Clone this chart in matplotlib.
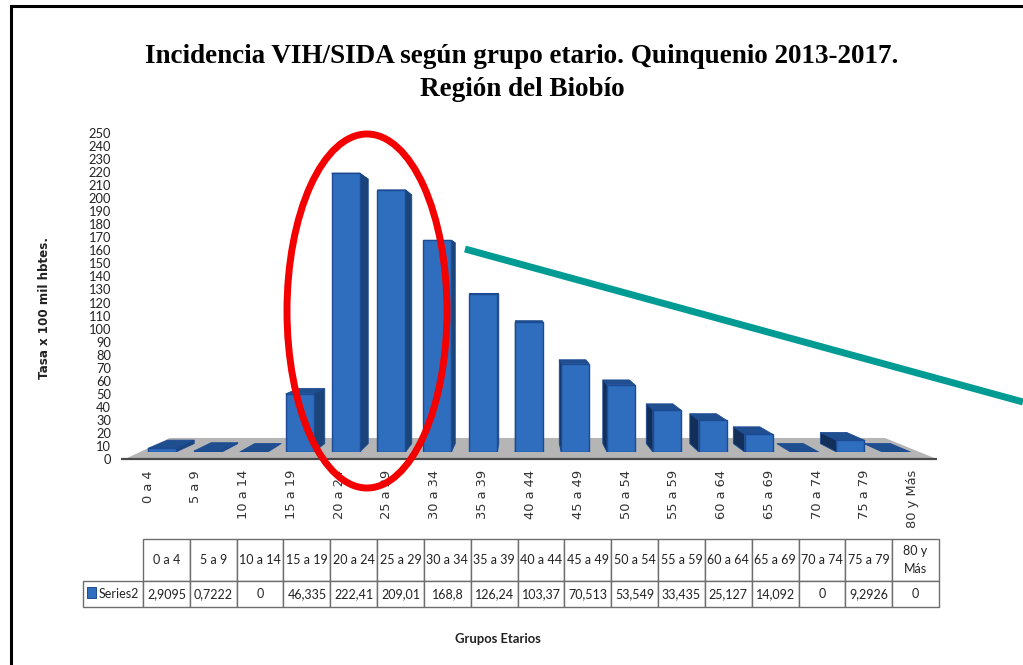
import matplotlib
matplotlib.use("Agg")
import matplotlib.pyplot as plt
from matplotlib.patches import Polygon, Ellipse, Rectangle

W, H, DPI = 1023, 665, 100

groups = ["0 a 4", "5 a 9", "10 a 14", "15 a 19", "20 a 24", "25 a 29", "30 a 34", "35 a 39",
          "40 a 44", "45 a 49", "50 a 54", "55 a 59", "60 a 64", "65 a 69", "70 a 74", "75 a 79", "80 y Más"]
values = [2.9095, 0.7222, 0, 46.335, 222.41, 209.01, 168.8, 126.24,
          103.37, 70.513, 53.549, 33.435, 25.127, 14.092, 0, 9.2926, 0]
value_labels = ["2,9095", "0,7222", "0", "46,335", "222,41", "209,01", "168,8", "126,24",
                "103,37", "70,513", "53,549", "33,435", "25,127", "14,092", "0", "9,2926", "0"]
series_name = "Series2"
y_ticks = list(range(0, 251, 10))
title = "Incidencia VIH/SIDA según grupo etario. Quinquenio 2013-2017.\nRegión del Biobío"
y_title = "Tasa x 100 mil hbtes."
x_title = "Grupos Etarios"

FRONT, TOP, SIDE_R, SIDE_L, EDGE = "#2F6EBE", "#1F4F8F", "#1B4478", "#112F58", "#1D4A94"
NARROW = "Lato"


def px_axes(left, right, top, bottom, **kw):
    return fig.add_axes([left / W, 1 - bottom / H, (right - left) / W, (bottom - top) / H], **kw)


fig = plt.figure(figsize=(W / DPI, H / DPI), dpi=DPI, facecolor="white")

# ---- bars: x index 0 -> 162 px, step 45.9 px; value 0 -> 452 px, 1.254 px per unit
ax = px_axes(162 - 45.9, 162 + 16 * 45.9 + 45.9, 452 - 260 * 1.254, 452)
ax.set_xlim(-1, 17)
ax.set_ylim(0, 260)
ax.axis("off")

vp_x, vp_y, depth = 7.93, 129.0, 0.052   # perspective of the fake 3D
half = 14 / 45.9


def back(x, y):
    return x + depth * (vp_x - x), y + depth * (vp_y - y)


# floor
floor = Polygon([(-0.806, -5.6), (16.88, -5.6), (15.75, 11.2), (0.17, 11.2)],
                closed=True, fc="#B5B5B5", ec="none", clip_on=False, zorder=1)
ax.add_patch(floor)
ax.plot([-0.9, 16.88], [-5.6, -5.6], color="#4A4A4A", lw=1.6, clip_on=False, zorder=2, solid_capstyle="butt")

for i, v in enumerate(values):
    l, r = i - half, i + half
    ax.add_patch(Polygon([(l, v), (r, v), back(r, v), back(l, v)], closed=True, fc=TOP, ec=EDGE, lw=0.6, zorder=3))
    if v > 0:
        if i < vp_x:
            ax.add_patch(Polygon([(r, v), back(r, v), back(r, 0), (r, 0)], closed=True, fc=SIDE_R, ec=EDGE, lw=0.6, zorder=3))
        else:
            ax.add_patch(Polygon([(l, v), back(l, v), back(l, 0), (l, 0)], closed=True, fc=SIDE_L, ec=EDGE, lw=0.6, zorder=3))

ax.bar(range(len(values)), values, width=2 * half, color=FRONT, edgecolor=EDGE, linewidth=1.0, zorder=4)

# ---- tick labels live on their own scale: 0 -> 459 px, 250 -> 133 px
ax_t = px_axes(148, 148 + 16 * 47.8, 133, 459)
ax_t.set_xlim(0, 16)
ax_t.set_ylim(0, 250)
ax_t.patch.set_alpha(0)
for s in ax_t.spines.values():
    s.set_visible(False)
ax_t.set_yticks(y_ticks)
ax_t.set_yticklabels([str(t) for t in y_ticks], fontsize=9.3, family=NARROW, color="#222222")
ax_t.tick_params(axis="y", length=0, pad=26.5)
ax_t.set_xticks(range(len(groups)))
ax_t.set_xticklabels(groups, rotation=90, fontsize=9.4, family="DejaVu Sans", color="#333333", va="top", ha="center")
ax_t.tick_params(axis="x", length=0, pad=8)

# ---- data table
ax_c = px_axes(83, 939, 539, 607)
ax_c.axis("off")
col_w = [60 / 856] + [46.82 / 856] * len(groups)
cells = [[""] + [g.replace("y Más", "y\nMás") for g in groups], [series_name] + value_labels]
tb = ax_c.table(cellText=cells, colWidths=col_w, cellLoc="center", bbox=[0, 0, 1, 1])
tb.auto_set_font_size(False)
for (r, c), cell in tb.get_celld().items():
    cell.set_height(42 / 68 if r == 0 else 26 / 68)
    cell.set_edgecolor("#6E6E6E")
    cell.set_linewidth(1.0)
    cell.get_text().set_fontsize(9)
    cell.get_text().set_family(NARROW)
    cell.get_text().set_color("#222222")
    cell.get_text().set_linespacing(1.6)
    if r == 0 and c == 0:
        cell.set_visible(False)
tb[(1, 0)].get_text().set_ha("left")
tb[(1, 0)].PAD = 0.26
ax_c.add_patch(Rectangle((3.5 / 60 * col_w[0], 6.5 / 68 + 0.03), 9 / 856, 11 / 68, fc=FRONT, ec=EDGE, lw=0.7, zorder=5))

# ---- text and annotations in pixel coordinates
ov = fig.add_axes([0, 0, 1, 1], zorder=10)
ov.set_xlim(0, W)
ov.set_ylim(H, 0)
ov.axis("off")
ov.patch.set_alpha(0)

ov.text(522, 73, title, ha="center", va="center", fontsize=19.5, fontweight="bold",
        family="Liberation Serif", color="black", linespacing=1.37)
ov.text(45, 308, y_title, rotation=90, ha="center", va="center", fontsize=8.6, fontweight="bold",
        family="DejaVu Sans", color="#222222")
ov.text(498, 639, x_title, ha="center", va="center", fontsize=9.4, fontweight="bold",
        family=NARROW, color="#222222")

ov.add_patch(Ellipse((367, 311), 160, 354, fc="none", ec="#F40000", lw=5.0))
ov.plot([465, 1023], [249, 402], color="#009C94", lw=5.0, solid_capstyle="butt")
ov.plot([11, 11, W], [H, 6, 6], color="black", lw=2.2, solid_joinstyle="miter")

fig.savefig("out.png", dpi=DPI)
